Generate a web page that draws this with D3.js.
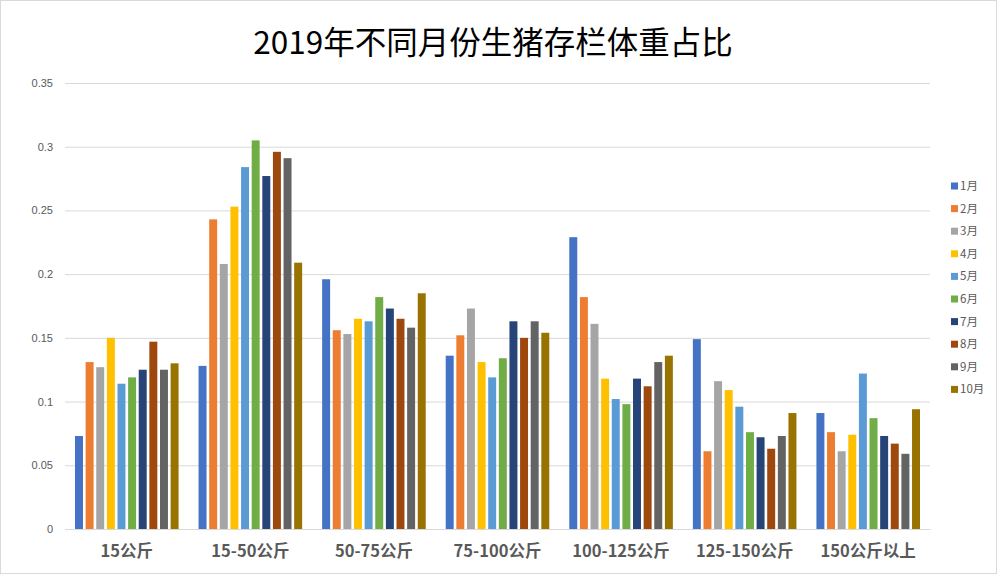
<!DOCTYPE html>
<html>
<head>
<meta charset="utf-8">
<script src="https://cdn.jsdelivr.net/npm/d3@7"></script>
<style>
  html, body { margin: 0; padding: 0; background: #fff; }
  svg { display: block; }
</style>
</head>
<body>
<svg id="chart" width="998" height="575"></svg>
<script>
const categories = ["15公斤", "15-50公斤", "50-75公斤", "75-100公斤", "100-125公斤", "125-150公斤", "150公斤以上"];
const seriesNames = ["1月", "2月", "3月", "4月", "5月", "6月", "7月", "8月", "9月", "10月"];
const seriesColors = ["#4472c4", "#ed7d31", "#a5a5a5", "#ffc000", "#5b9bd5", "#70ad47", "#264478", "#9e480e", "#636363", "#997300"];
// values[series][category]
const s1  = [0.073, 0.128, 0.196, 0.136, 0.229, 0.149, 0.091];
const s2  = [0.131, 0.243, 0.156, 0.152, 0.182, 0.061, 0.076];
const s3  = [0.127, 0.208, 0.153, 0.173, 0.161, 0.116, 0.061];
const s4  = [0.150, 0.253, 0.165, 0.131, 0.118, 0.109, 0.074];
const s5  = [0.114, 0.284, 0.163, 0.119, 0.102, 0.096, 0.122];
const s6  = [0.119, 0.305, 0.182, 0.134, 0.098, 0.076, 0.087];
const s7  = [0.125, 0.277, 0.173, 0.163, 0.118, 0.072, 0.073];
const s8  = [0.147, 0.296, 0.165, 0.150, 0.112, 0.063, 0.067];
const s9  = [0.125, 0.291, 0.158, 0.163, 0.131, 0.073, 0.059];
const s10 = [0.130, 0.209, 0.185, 0.154, 0.136, 0.091, 0.094];
const seriesValues = [s1, s2, s3, s4, s5, s6, s7, s8, s9, s10];
const yTicks = [0, 0.05, 0.1, 0.15, 0.2, 0.25, 0.3, 0.35];
const titleText = "2019年不同月份生猪存栏体重占比";

const svg = d3.select("#chart");
const plot = { left: 65, right: 930, top: 83, bottom: 529 };
const font = "'Noto Sans CJK SC', 'Noto Sans', sans-serif";

svg.append("rect").attr("x", 0.5).attr("y", 0.5).attr("width", 996).attr("height", 573)
  .attr("fill", "#fff").attr("stroke", "#d9d9d9").attr("stroke-width", 1);

svg.append("text").attr("x", 493).attr("y", 54).attr("text-anchor", "middle")
  .attr("font-family", font).attr("font-size", 31.5).attr("fill", "#000")
  .text(titleText);

const y = d3.scaleLinear().domain([0, 0.35]).range([plot.bottom, plot.top]);
const x0 = d3.scaleBand().domain(categories).range([plot.left, plot.right]).padding(0);
const x1 = d3.scaleBand().domain(seriesNames).range([10, x0.bandwidth() - 10]).paddingInner(0.25).paddingOuter(0);

// gridlines
const yAxis = d3.axisLeft(y).tickValues(yTicks).tickSize(-(plot.right - plot.left)).tickSizeOuter(0)
  .tickFormat(d => d3.format("~g")(d)).tickPadding(12);
const gy = svg.append("g").attr("transform", `translate(${plot.left},0)`).call(yAxis);
gy.select(".domain").remove();
gy.selectAll(".tick line").attr("stroke", "#d9d9d9").attr("stroke-width", 1);
gy.selectAll(".tick text").attr("font-family", "'Liberation Sans', Arial, sans-serif").attr("font-size", 11).attr("fill", "#595959");

// bars
const groups = svg.append("g").selectAll("g").data(categories).join("g")
  .attr("transform", d => `translate(${x0(d)},0)`);
groups.selectAll("rect")
  .data((c, ci) => seriesNames.map((s, si) => ({ s, si, v: seriesValues[si][ci] })))
  .join("rect")
  .attr("x", d => x1(d.s))
  .attr("width", x1.bandwidth())
  .attr("y", d => y(d.v))
  .attr("height", d => y(0) - y(d.v))
  .attr("fill", d => seriesColors[d.si]);

// x axis
const xAxis = d3.axisBottom(x0).tickSize(0).tickPadding(16);
const gx = svg.append("g").attr("transform", `translate(0,${plot.bottom})`).call(xAxis);
gx.select(".domain").attr("stroke", "#d9d9d9");
gx.selectAll(".tick text").attr("font-family", font).attr("font-size", 16.5).attr("font-weight", "bold").attr("fill", "#595959");

// legend
const legend = svg.append("g").attr("transform", "translate(951,186)");
const li = legend.selectAll("g").data(seriesNames).join("g")
  .attr("transform", (d, i) => `translate(0,${i * 22.6})`);
li.append("rect").attr("x", 0).attr("y", -3.5).attr("width", 7).attr("height", 7)
  .attr("fill", (d, i) => seriesColors[i]);
li.append("text").attr("x", 9).attr("y", 0).attr("dy", "0.35em")
  .attr("font-family", font).attr("font-size", 11.5).attr("fill", "#595959").text(d => d);
</script>
</body>
</html>
